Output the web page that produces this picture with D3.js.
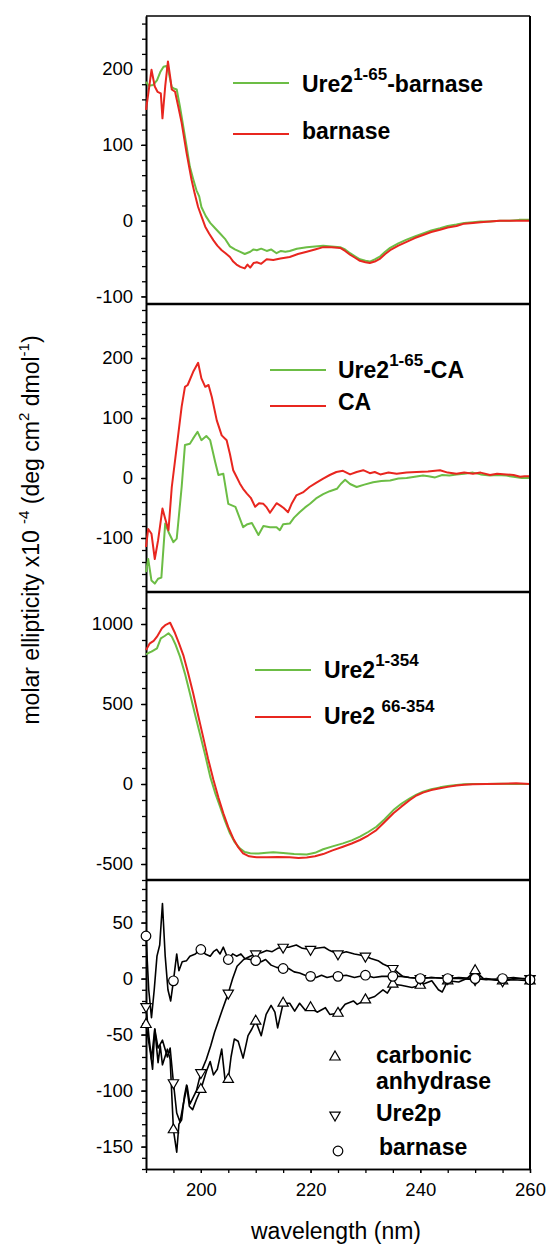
<!DOCTYPE html>
<html>
<head>
<meta charset="utf-8">
<script src="https://cdn.jsdelivr.net/npm/d3@7"></script>
<style>
  body { margin: 0; background: #fff; }
  svg { display: block; font-family: Arial, "Liberation Sans", sans-serif; }
</style>
</head>
<body>
<svg id="chart" width="546" height="1244"></svg>
<script>
// ---- data: [wavelength nm, molar ellipticity x10^-4] ----
const xTicks = [200, 220, 240, 260];

// panel 1
const ure2Barnase = [[190,183],[190.5,178],[191.3,179],[192,185],[192.6,196],[193.2,203],[193.7,204],[194.1,197],[194.7,176],[195.2,174],[195.6,173],[196.2,150],[196.8,124],[197.4,98],[198,71],[198.6,55],[199.2,40],[199.7,32],[200.1,18],[200.9,6],[201.7,-3],[202.6,-10],[203.5,-17],[204.4,-24],[205.3,-34],[206.2,-38],[207.1,-41],[208,-44],[209,-41],[209.6,-38],[210.2,-39],[211,-37],[212,-40],[212.8,-38],[213.8,-43],[214.6,-40],[215.4,-41],[216.2,-40],[217.5,-37],[219.3,-35],[220.8,-34],[222.3,-33],[223.8,-34],[225.4,-35],[226.3,-38],[227.2,-43],[228.1,-47],[229,-51],[230,-53],[230.8,-54],[231.7,-51],[232.7,-47],[233.6,-41],[234.5,-36],[236,-30],[237.5,-25],[239,-21],[240.5,-17],[242,-13],[243.6,-10],[245,-7],[246.6,-5],[248,-3],[249.6,-2],[251,-1],[252.7,-1],[254.5,0],[256.3,0],[258,1],[260,1]];
const barnase1 = [[190,146],[190.5,172],[191,199],[191.6,177],[192.1,170],[192.7,168],[193,135],[193.5,177],[194,210],[194.4,190],[194.7,173],[195.3,170],[195.9,150],[196.5,129],[197.4,89],[198.3,54],[198.9,35],[199.5,18],[200.2,4],[200.8,-8],[201.5,-17],[202.3,-26],[203,-33],[203.8,-39],[204.5,-43],[205.3,-48],[205.9,-54],[206.5,-58],[207.2,-61],[208,-63],[208.5,-58],[209,-62],[209.6,-56],[210.2,-55],[211,-57],[212,-51],[213.2,-52],[214.5,-50],[216.2,-48],[217.7,-44],[219.3,-41],[220.8,-38],[222.3,-35],[223.8,-35],[225.4,-36],[226.3,-40],[227.2,-45],[228.1,-49],[229,-53],[230,-55],[230.8,-56],[231.7,-54],[232.7,-50],[233.6,-44],[234.5,-39],[236,-33],[237.5,-28],[239,-23],[240.5,-19],[242,-15],[243.6,-12],[245,-9],[246.6,-7],[248,-4],[249.6,-3],[251,-2],[252.7,-1],[254.5,0],[256.3,0],[258,0],[260,0]];

// panel 2
const ure2CA = [[190,-157],[190.4,-135],[191,-171],[191.6,-176],[192.2,-168],[192.8,-166],[193.5,-76],[194.1,-90],[195,-107],[195.6,-101],[196.5,-15],[197.1,55],[198,57],[198.6,66],[199.4,77],[200.1,63],[201,70],[201.7,63],[202.6,27],[203.2,5],[204.1,7],[205,-43],[206.3,-48],[207.7,-82],[208.5,-77],[209.3,-75],[210.5,-95],[211.4,-80],[212.6,-82],[213.8,-82],[214.4,-87],[215,-77],[216.2,-76],[217,-66],[218,-57],[219,-49],[219.9,-43],[221,-34],[222.3,-27],[223.5,-22],[224.8,-18],[225.5,-10],[226.3,-3],[227.2,-10],[228.4,-15],[229.8,-11],[231.4,-7],[232.9,-5],[234.5,-4],[236,-1],[237.5,0],[239,2],[240.5,4],[241.5,3],[242.7,1],[244,5],[245.3,4],[246.6,6],[248,7],[249.6,9],[251,6],[252.7,4],[254,5],[255.7,4],[257,2],[258.5,0],[260,0]];
const caOnly = [[190,-115],[190.4,-85],[191,-93],[191.6,-135],[192.2,-104],[193,-51],[193.5,-68],[194.1,-87],[194.7,-15],[195.6,52],[196.5,119],[197.1,152],[197.6,155],[198.6,177],[199.5,192],[200.1,166],[200.8,152],[201.4,155],[202,135],[202.9,96],[203.8,71],[204.7,63],[205.3,40],[205.9,13],[206.5,2],[207.1,-9],[207.7,-18],[208.4,-26],[209.1,-33],[209.9,-48],[210.6,-42],[211.4,-43],[212,-49],[212.6,-58],[213.2,-50],[213.8,-42],[214.5,-46],[215.1,-50],[215.9,-57],[216.6,-42],[217.4,-29],[218.6,-24],[219.8,-15],[221,-8],[222.3,-1],[223.5,5],[224.7,10],[225.9,12],[227.2,6],[228.4,10],[229.6,13],[230.8,8],[231.7,10],[232.7,6],[234.2,9],[235.7,7],[237.5,9],[239.3,10],[241.4,11],[243.6,13],[245,9],[246.6,7],[248,9],[249.6,7],[251,9],[252.7,5],[254,7],[255.7,6],[257,5],[258.2,2],[259,3],[260,3]];

// panel 3
const ure2Full = [[190,810],[190.5,820],[191,827],[192,848],[192.7,910],[193.4,925],[194.1,942],[194.7,921],[195.4,870],[196.2,796],[197.1,690],[198,567],[198.9,440],[199.8,317],[200.8,180],[201.7,46],[202.6,-55],[203.5,-142],[204.4,-230],[205.3,-308],[206.2,-365],[207.1,-402],[208,-425],[209,-433],[210.5,-435],[212,-430],[213.2,-427],[215,-432],[217,-437],[219.3,-440],[220.8,-430],[222.3,-408],[224,-390],[225.9,-371],[227.5,-352],[229,-329],[230.5,-300],[232,-267],[233.5,-220],[235.1,-163],[236.6,-122],[238.1,-90],[239.3,-66],[240.5,-48],[242,-32],[243.6,-21],[245,-13],[246.6,-6],[248,-2],[249.6,0],[252,0],[255,1],[258,0],[260,0]];
const ure2Core = [[190,838],[190.7,879],[191.4,895],[192,921],[192.9,973],[193.6,995],[194.4,1008],[195.3,942],[196,880],[196.8,806],[197.7,690],[198.6,567],[199.5,430],[200.4,296],[201.3,160],[202.3,25],[203.2,-85],[204.1,-183],[205,-270],[205.9,-340],[206.8,-395],[207.7,-433],[208.8,-452],[210.2,-458],[212,-458],[214,-457],[216.2,-458],[217.8,-462],[219.3,-460],[220.8,-452],[222.3,-438],[224,-415],[225.9,-392],[227.5,-372],[229,-350],[230.5,-322],[232,-288],[233.5,-238],[235.1,-183],[236.6,-140],[238.1,-100],[239.3,-72],[240.5,-54],[242,-38],[243.6,-27],[245,-18],[246.6,-10],[248,-5],[249.6,-2],[252,0],[255,2],[257.5,4],[260,0]];

// panel 4 (difference spectra)
const diffCA = [[190,-41],[190.8,-66],[191.2,-81],[191.6,-45],[192.2,-75],[192.6,-60],[193,-77],[193.9,-63],[194.4,-72],[195,-135],[195.6,-155],[196,-130],[196.5,-126],[197,-105],[197.4,-95],[197.9,-114],[198.5,-117],[199.2,-108],[200,-99],[201,-83],[201.7,-74],[202.3,-86],[203,-81],[203.8,-63],[204.4,-90],[205,-90],[205.5,-70],[206.1,-54],[206.8,-56],[207.7,-71],[208.6,-51],[209.3,-45],[210,-38],[211,-51],[211.9,-32],[212.8,-24],[213.5,-30],[214,-44],[215,-22],[216.2,-22],[217.1,-29],[218,-22],[219,-28],[220,-26],[221.2,-30],[222.7,-26],[223.5,-32],[225,-31],[226.3,-23],[227.8,-20],[228.5,-23],[230,-19],[230.5,-18],[231.7,-16],[233.2,-10],[234,-13],[235,-5],[236.5,-6],[238.5,-8],[240,-6],[242.1,-2],[243.3,-10],[244,-12],[245,-2],[247,-3],[248.5,0],[250,7],[251.5,0],[253,-1],[255,-2],[257,-1],[260,-2]];
const diffUre2p = [[190,-25],[190.5,-50],[191,-72],[191.6,-45],[192.2,-62],[193,-55],[193.9,-70],[194.4,-62],[195,-93],[195.6,-120],[196.2,-128],[196.8,-112],[197.5,-96],[198,-112],[198.6,-106],[199.2,-100],[200,-84],[201,-72],[201.8,-60],[202.5,-48],[203.2,-38],[203.9,-28],[205,-13],[205.8,0],[206.6,11],[207.8,17],[209,20],[210,22],[211,23],[212,25],[213,24],[214,27],[215,28],[216,28],[217.4,30],[218.5,27],[220,26],[221,27],[222.5,28],[223.5,25],[225,22],[226.5,24],[228,22],[229,21],[230,20],[231,18],[232.3,16],[233.2,13],[234.1,11],[235,9],[236,5],[236.8,2],[238,1],[240,0],[242,1],[245,0],[247,0],[250,-1],[252,0],[255,-2],[257,0],[260,0]];
const diffBarnase = [[190,38],[190.5,-10],[191,-35],[191.5,-10],[192,20],[192.5,30],[193,67],[193.5,20],[194,-10],[194.5,-20],[195,-2],[195.6,22],[196,7],[196.6,15],[197.4,16],[198,20],[199,22],[200,26],[200.8,22],[201.7,20],[202.3,24],[202.9,26],[203.5,22],[204.1,28],[205,17],[205.8,22],[206.5,20],[207.3,22],[208,18],[209,17],[210,16],[211,15],[211.8,17],[212.8,12],[213.8,10],[215,9],[216,9],[217,6],[218,5],[219,3],[220,2],[221,1],[222,3],[223,1],[224,2],[225,2],[226.5,3],[228,1],[229,2],[230,3],[231.5,1],[233,2],[235,2],[236.5,2],[238,1],[240,0],[242,1],[245,0],[247,1],[250,0],[252,-1],[255,0],[257,1],[260,-1]];

// ---- layout ----
const GREEN = "#6cbd45", RED = "#e8261f";
const left = 146, right = 530;
const svg = d3.select("#chart");
const x = d3.scaleLinear().domain([190, 260]).range([left, right]);
const line = (y) => d3.line().x(d => x(d[0])).y(d => y(d[1]));
const plain = d => String(d);   // hyphen minus, no thousands comma

const panels = [
    { top: 16, bottom: 304, domain: [-110, 270], major: [-100, 0, 100, 200], minor: [-100, 260, 20],
      series: [{ data: ure2Barnase, color: GREEN }, { data: barnase1, color: RED }] },
    { top: 304, bottom: 592, domain: [-190, 290], major: [-100, 0, 100, 200], minor: [-180, 280, 20],
      series: [{ data: ure2CA, color: GREEN }, { data: caOnly, color: RED }] },
    { top: 592, bottom: 880, domain: [-600, 1200], major: [-500, 0, 500, 1000], minor: [-600, 1100, 100],
      series: [{ data: ure2Full, color: GREEN }, { data: ure2Core, color: RED }] },
    { top: 880, bottom: 1169, domain: [-170, 88], major: [-150, -100, -50, 0, 50], minor: [-170, 80, 10],
      series: [{ data: diffCA, color: "#000", sym: "up" }, { data: diffUre2p, color: "#000", sym: "down" },
               { data: diffBarnase, color: "#000", sym: "circle" }] }
];

const styleAxis = (g, fs) => {
    g.selectAll("path.domain").attr("stroke", "#000").attr("stroke-width", 1.6);
    g.selectAll(".tick line").attr("stroke", "#000").attr("stroke-width", 1.3);
    g.selectAll(".tick text").attr("font-size", fs).attr("font-family", "Arial, 'Liberation Sans', sans-serif").attr("fill", "#000");
};

const marker = (sel, sym) => {
    if (sym === "circle") {
        sel.append("circle").attr("r", 4.8);
    } else {
        sel.append("path").attr("d", d3.symbol(d3.symbolTriangle, 46)())
            .attr("transform", sym === "down" ? "rotate(180)" : null);
    }
    sel.selectAll("circle,path").attr("fill", "#fff").attr("stroke", "#000").attr("stroke-width", 1.2);
};

panels.forEach(p => {
    const y = d3.scaleLinear().domain(p.domain).range([p.bottom, p.top]);
    const g = svg.append("g");

    // minor ticks
    g.append("g").attr("transform", `translate(${left},0)`)
        .call(d3.axisLeft(y).tickValues(d3.range(p.minor[0], p.minor[1] + 1, p.minor[2]))
            .tickSize(4).tickSizeOuter(0).tickFormat(""))
        .call(a => styleAxis(a, 18));
    // major ticks + labels
    g.append("g").attr("transform", `translate(${left},0)`)
        .call(d3.axisLeft(y).tickValues(p.major).tickSize(5).tickSizeOuter(0).tickPadding(8).tickFormat(plain))
        .call(a => styleAxis(a, 18.5));

    p.series.forEach(s => {
        g.append("path").datum(s.data)
            .attr("fill", "none").attr("stroke", s.color)
            .attr("stroke-width", s.sym ? 1.6 : 2)
            .attr("stroke-linejoin", "round")
            .attr("d", line(y));
    });

    p.series.filter(s => s.sym).forEach(s => {
        g.selectAll(null).data(s.data.filter(d => d[0] % 5 === 0)).join("g")
            .attr("transform", d => `translate(${x(d[0])},${y(d[1])})`)
            .call(m => marker(m, s.sym));
    });
});

// frame: top line, panel dividers, right border
svg.append("g").selectAll("line").data(panels).join("line")
    .attr("x1", left).attr("x2", right)
    .attr("y1", d => d.top).attr("y2", d => d.top)
    .attr("stroke", "#000").attr("stroke-width", (d, i) => i === 0 ? 1.7 : 2.4);
svg.append("line").attr("x1", right).attr("x2", right).attr("y1", 16).attr("y2", 1169)
    .attr("stroke", "#000").attr("stroke-width", 2);

// x axis
const xa = svg.append("g").attr("transform", "translate(0,1169)");
xa.append("g").call(d3.axisBottom(x).tickValues(d3.range(190, 261, 5)).tickSize(4).tickSizeOuter(0).tickFormat(""))
    .call(a => styleAxis(a, 18));
xa.append("g").call(d3.axisBottom(x).tickValues(xTicks).tickSize(4).tickSizeOuter(0).tickPadding(10).tickFormat(plain))
    .call(a => styleAxis(a, 18.5));

svg.append("text").attr("x", 336).attr("y", 1239).attr("text-anchor", "middle")
    .attr("font-size", 23).text("wavelength (nm)");

// y label
const yl = svg.append("text").attr("transform", "translate(39,530) rotate(-90)")
    .attr("text-anchor", "middle").attr("font-size", 23);
yl.append("tspan").text("molar ellipticity  x10 ");
yl.append("tspan").attr("font-size", 15).attr("dy", -10).text("-4");
yl.append("tspan").attr("dy", 10).text("  (deg cm");
yl.append("tspan").attr("font-size", 15).attr("dy", -10).text("2");
yl.append("tspan").attr("dy", 10).text(" dmol");
yl.append("tspan").attr("font-size", 15).attr("dy", -10).text("-1");
yl.append("tspan").attr("dy", 10).text(")");

// legends
const legLine = (x1, yy, color) => svg.append("line").attr("x1", x1).attr("x2", x1 + 56)
    .attr("y1", yy).attr("y2", yy).attr("stroke", color).attr("stroke-width", 2);
// parts: [text, shift] where shift 1 = raise into superscript, -1 = back to baseline
const legText = (tx, ty, parts) => {
    const t = svg.append("text").attr("x", tx).attr("y", ty)
        .attr("font-size", 23).attr("font-weight", "bold");
    parts.forEach(([s, sup]) => {
        t.append("tspan").attr("font-size", sup === 1 ? 17 : 23)
            .attr("dy", sup === 1 ? -12 : sup === -1 ? 12 : 0).text(s);
    });
};

legLine(233, 83, GREEN);
legText(302, 92, [["Ure2", 0], ["1-65", 1], ["-barnase", -1]]);
legLine(233, 134, RED);
legText(302, 139, [["barnase", 0]]);

legLine(270, 370, GREEN);
legText(338, 378, [["Ure2", 0], ["1-65", 1], ["-CA", -1]]);
legLine(270, 406, RED);
legText(338, 410, [["CA", 0]]);

legLine(255, 670, GREEN);
legText(324, 678, [["Ure2", 0], ["1-354", 1]]);
legLine(255, 717, RED);
legText(324, 724, [["Ure2 ", 0], ["66-354", 1]]);

[["up", 335, 1057], ["down", 335, 1115], ["circle", 338, 1151]].forEach(([sym, mx, my]) => {
    svg.append("g").attr("transform", `translate(${mx},${my})`).call(m => marker(m, sym));
});
legText(376, 1063, [["carbonic", 0]]);
legText(376, 1089, [["anhydrase", 0]]);
legText(376, 1121, [["Ure2p", 0]]);
legText(379, 1155, [["barnase", 0]]);
</script>
</body>
</html>
